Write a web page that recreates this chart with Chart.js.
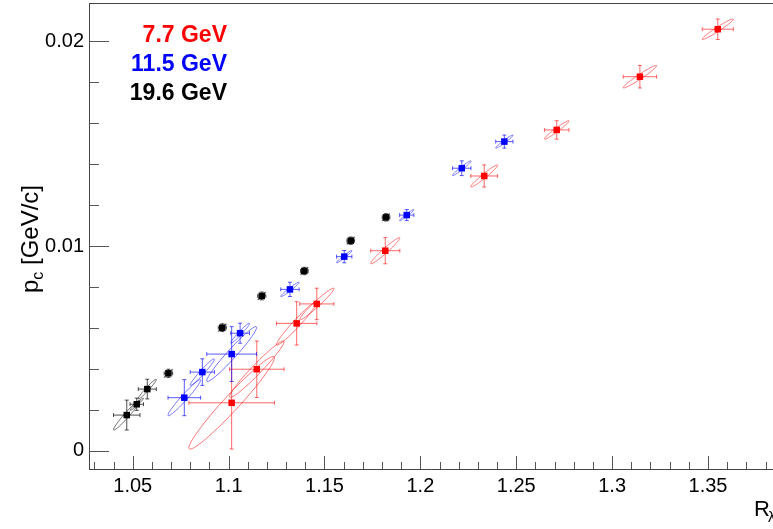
<!DOCTYPE html>
<html>
<head>
<meta charset="utf-8">
<script src="https://cdn.jsdelivr.net/npm/chart.js@4"></script>
<style>
  html, body { margin: 0; padding: 0; background: #fff; overflow: hidden; }
</style>
</head>
<body>
<canvas id="chart" width="773" height="529"></canvas>
<script>
// 7.7 GeV
const red7x = [1.1016, 1.1147, 1.1355, 1.1460, 1.1817, 1.2333, 1.2711, 1.3145, 1.3551];
const red7y = [0.00234, 0.00398, 0.00622, 0.00717, 0.00977, 0.01342, 0.01567, 0.01827, 0.02059];
const red7xErr = [0.0223, 0.0142, 0.0105, 0.0089, 0.0076, 0.0070, 0.0064, 0.0087, 0.0081];
const red7yErr = [0.00226, 0.00138, 0.00106, 0.00077, 0.00064, 0.00054, 0.00045, 0.00055, 0.00050];

// 11.5 GeV
const blue11x = [1.0769, 1.0863, 1.1016, 1.1060, 1.1320, 1.1603, 1.1929, 1.2216, 1.2438];
const blue11y = [0.00259, 0.00384, 0.00472, 0.00574, 0.00788, 0.00948, 0.01151, 0.01380, 0.01510];
const blue11xErr = [0.0085, 0.0063, 0.0130, 0.0049, 0.0048, 0.0040, 0.0037, 0.0048, 0.0045];
const blue11yErr = [0.00088, 0.00065, 0.00134, 0.00049, 0.00035, 0.00030, 0.00027, 0.00036, 0.00032];

// 19.6 GeV
const black19x = [1.0469, 1.0521, 1.0576, 1.0686, 1.0967, 1.1173, 1.1395, 1.1637, 1.1821];
const black19y = [0.00174, 0.00227, 0.00301, 0.00378, 0.00601, 0.00756, 0.00878, 0.01026, 0.01140];
const black19xErr = [0.0069, 0.0035, 0.0047, 0.0022, 0.0021, 0.0021, 0.0020, 0.0020, 0.0020];
const black19yErr = [0.00073, 0.00030, 0.00048, 0.00020, 0.00019, 0.00019, 0.00018, 0.00018, 0.00018];

const legendLabels = ["7.7 GeV", "11.5 GeV", "19.6 GeV"];

const xTickValues = [1.05, 1.1, 1.15, 1.2, 1.25, 1.3, 1.35];
const xTickLabels = ["1.05", "1.1", "1.15", "1.2", "1.25", "1.3", "1.35"];
const yTickValues = [0, 0.01, 0.02];
const yTickLabels = ["0", "0.01", "0.02"];

const series = [
    { xs: red7x, ys: red7y, xe: red7xErr, ye: red7yErr, marker: "#ff0000", bar: "rgba(255,0,0,0.6)", ell: "rgba(255,0,0,0.55)" },
    { xs: blue11x, ys: blue11y, xe: blue11xErr, ye: blue11yErr, marker: "#0000ff", bar: "rgba(0,0,255,0.65)", ell: "rgba(0,0,255,0.55)" },
    { xs: black19x, ys: black19y, xe: black19xErr, ye: black19yErr, marker: "#000000", bar: "rgba(0,0,0,0.7)", ell: "rgba(0,0,0,0.6)" }
];

const RHO = 0.97;
const FONT = "'Liberation Sans', Arial, Helvetica, sans-serif";

// ellipses + error bars under the markers
const errorPlugin = {
    id: "errorPlugin",
    beforeDatasetsDraw(chart) {
        const { ctx, scales: { x, y } } = chart;
        ctx.save();
        series.forEach(s => {
            s.xs.forEach((xv, i) => {
                const cx = x.getPixelForValue(xv);
                const cy = y.getPixelForValue(s.ys[i]);
                const sx = Math.abs(x.getPixelForValue(xv + s.xe[i]) - cx);
                const sy = Math.abs(y.getPixelForValue(s.ys[i] + s.ye[i]) - cy);

                // correlation ellipse
                ctx.strokeStyle = s.ell;
                ctx.lineWidth = 1;
                ctx.beginPath();
                for (let k = 0; k <= 120; k++) {
                    const t = k / 120 * Math.PI * 2;
                    const ex = cx + sx * Math.cos(t);
                    const ey = cy - sy * (RHO * Math.cos(t) + Math.sqrt(1 - RHO * RHO) * Math.sin(t));
                    if (k === 0) ctx.moveTo(ex, ey); else ctx.lineTo(ex, ey);
                }
                ctx.closePath();
                ctx.stroke();

                // error bars with caps
                ctx.strokeStyle = s.bar;
                ctx.beginPath();
                ctx.moveTo(cx - sx, cy); ctx.lineTo(cx + sx, cy);
                ctx.moveTo(cx, cy - sy); ctx.lineTo(cx, cy + sy);
                ctx.moveTo(cx - sx, cy - 2); ctx.lineTo(cx - sx, cy + 2);
                ctx.moveTo(cx + sx, cy - 2); ctx.lineTo(cx + sx, cy + 2);
                ctx.moveTo(cx - 2, cy - sy); ctx.lineTo(cx + 2, cy - sy);
                ctx.moveTo(cx - 2, cy + sy); ctx.lineTo(cx + 2, cy + sy);
                ctx.stroke();
            });
        });
        ctx.restore();
    }
};

// frame, ticks, titles, legend text
const framePlugin = {
    id: "framePlugin",
    afterDraw(chart) {
        const { ctx, chartArea: a, scales: { x, y } } = chart;
        ctx.save();
        ctx.strokeStyle = "#444";
        ctx.lineWidth = 1;
        ctx.beginPath();
        ctx.moveTo(a.left, a.top + 0.5);
        ctx.lineTo(a.right, a.top + 0.5);
        ctx.stroke();

        ctx.strokeStyle = "#555";
        ctx.beginPath();
        for (let k = 103; k <= 138; k++) {
            const px = Math.round(x.getPixelForValue(k / 100)) + 0.5;
            const len = k % 5 === 0 ? 13 : 7;
            ctx.moveTo(px, a.bottom);
            ctx.lineTo(px, a.bottom - len);
        }
        for (let k = 0; k <= 10; k++) {
            const py = Math.round(y.getPixelForValue(k * 0.002)) + 0.5;
            const len = k % 5 === 0 ? 20 : 10;
            ctx.moveTo(a.left, py);
            ctx.lineTo(a.left + len, py);
        }
        ctx.stroke();

        // y title
        ctx.fillStyle = "#000";
        ctx.textBaseline = "alphabetic";
        ctx.textAlign = "left";
        ctx.translate(38, 239);
        ctx.rotate(-Math.PI / 2);
        ctx.font = "24px " + FONT;
        const wp = ctx.measureText("p").width;
        const rest = " [GeV/c]";
        const wr = ctx.measureText(rest).width;
        ctx.font = "16px " + FONT;
        const wc = ctx.measureText("c").width;
        const start = -(wp + wc + wr) / 2;
        ctx.font = "24px " + FONT;
        ctx.fillText("p", start, 0);
        ctx.font = "16px " + FONT;
        ctx.fillText("c", start + wp, 5);
        ctx.font = "24px " + FONT;
        ctx.fillText(rest, start + wp + wc, 0);
        ctx.setTransform(1, 0, 0, 1, 0, 0);

        // x title (cut at the right edge)
        ctx.font = "22px " + FONT;
        ctx.fillText("R", 754, 516);
        ctx.font = "15px " + FONT;
        ctx.fillText("λ", 768, 522);

        // legend
        ctx.font = "bold 23px " + FONT;
        ctx.textAlign = "right";
        const cols = ["#ff0000", "#0000ff", "#000000"];
        const base = [42, 71, 100];
        legendLabels.forEach((t, i) => {
            ctx.fillStyle = cols[i];
            ctx.fillText(t, 227, base[i]);
        });
        ctx.restore();
    }
};

function noPadding(s) {
    s.paddingTop = 0;
    s.paddingBottom = 0;
    s.paddingLeft = 0;
    s.paddingRight = 0;
}

const datasets = series.map((s, i) => ({
    label: legendLabels[i],
    data: s.xs.map((xv, j) => ({ x: xv, y: s.ys[j] })),
    showLine: false,
    pointStyle: "rect",
    pointRadius: 4.6,
    pointBackgroundColor: s.marker,
    pointBorderWidth: 0,
    pointBorderColor: s.marker
}));

new Chart(document.getElementById("chart"), {
    type: "scatter",
    data: { datasets },
    options: {
        responsive: false,
        animation: false,
        devicePixelRatio: 1,
        layout: { autoPadding: false, padding: { left: 0, right: 0, top: 3, bottom: 0 } },
        plugins: { legend: { display: false }, tooltip: { enabled: false } },
        scales: {
            x: {
                type: "linear",
                min: 1.0272,
                max: 1.3839,
                grid: { display: false, drawTicks: false },
                border: { display: true, color: "#444", width: 1 },
                ticks: {
                    color: "#000",
                    font: { family: FONT, size: 20 },
                    padding: 5,
                    maxRotation: 0,
                    autoSkip: false,
                    callback: (v, i) => xTickLabels[i]
                },
                afterBuildTicks: s => { s.ticks = xTickValues.map(v => ({ value: v })); },
                afterFit: s => { s.height = 60; noPadding(s); }
            },
            y: {
                type: "linear",
                min: -0.000894,
                max: 0.021871,
                grid: { display: false, drawTicks: false },
                border: { display: true, color: "#444", width: 1 },
                ticks: {
                    color: "#000",
                    font: { family: FONT, size: 20 },
                    padding: 5,
                    autoSkip: false,
                    callback: (v, i) => yTickLabels[i]
                },
                afterBuildTicks: s => { s.ticks = yTickValues.map(v => ({ value: v })); },
                afterFit: s => { s.width = 89; noPadding(s); }
            }
        }
    },
    plugins: [errorPlugin, framePlugin]
});
</script>
</body>
</html>
